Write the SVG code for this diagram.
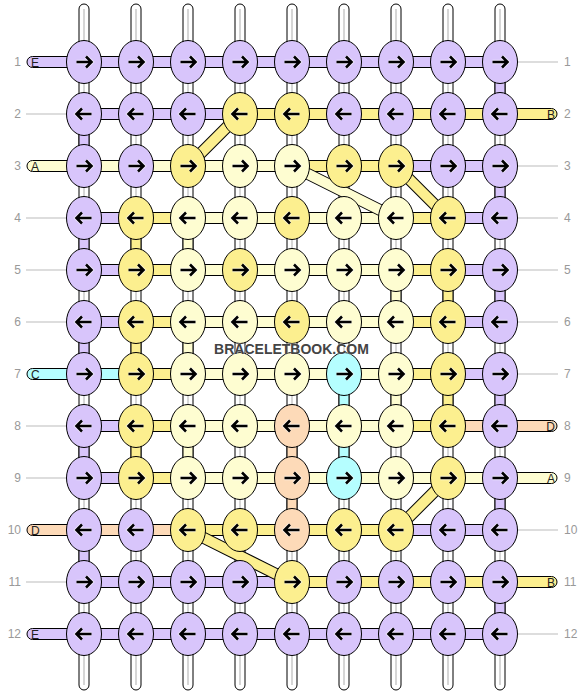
<svg xmlns="http://www.w3.org/2000/svg" xmlns:xlink="http://www.w3.org/1999/xlink" width="584" height="696" viewBox="0 0 584 696">
<style>
.p{fill:#D8C5FB}.y{fill:#FCEF8F}.l{fill:#FEFDD1}.c{fill:#B5FEFF}.o{fill:#FDDAB8}
#connectors rect{stroke:#000;stroke-width:1}
.n ellipse{stroke:#000;stroke-width:1}
.w{fill:#fff;stroke:#000;stroke-width:1}
.wl{stroke:#c8c8c8;stroke-width:1.5}
.g{stroke:#bbb;stroke-width:1}
.dk{stroke:#000;stroke-width:12}
.dy{stroke:#FCEF8F;stroke-width:10}
.dl{stroke:#FEFDD1;stroke-width:10}
.num{font-family:"Liberation Sans",Arial,sans-serif;font-size:12px;fill:#999}
.lt{font-family:"Liberation Sans",Arial,sans-serif;font-size:12px;fill:#222}
.wm{font-family:"Liberation Sans",Arial,sans-serif;font-size:14px;font-weight:bold;fill:#444}
</style>
<defs>
<g id="R"><path d="M-7.5,0H7.5M2,-5.5L7.5,0L2,5.5" fill="none" stroke="#fff" stroke-opacity="0.6" stroke-width="4.5"/><path d="M-7.5,0H7.5M2,-5.5L7.5,0L2,5.5" fill="none" stroke="#000" stroke-width="2.6"/></g>
<g id="L"><path d="M7.5,0H-7.5M-2,-5.5L-7.5,0L-2,5.5" fill="none" stroke="#fff" stroke-opacity="0.6" stroke-width="4.5"/><path d="M7.5,0H-7.5M-2,-5.5L-7.5,0L-2,5.5" fill="none" stroke="#000" stroke-width="2.6"/></g>
</defs>
<rect width="584" height="696" fill="#fff"/>
<g id="strings">
<rect class="w" x="79" y="4" width="10" height="686" rx="5"/><line class="wl" x1="84" y1="9" x2="84" y2="685"/>
<rect class="w" x="131" y="4" width="10" height="686" rx="5"/><line class="wl" x1="136" y1="9" x2="136" y2="685"/>
<rect class="w" x="183" y="4" width="10" height="686" rx="5"/><line class="wl" x1="188" y1="9" x2="188" y2="685"/>
<rect class="w" x="235" y="4" width="10" height="686" rx="5"/><line class="wl" x1="240" y1="9" x2="240" y2="685"/>
<rect class="w" x="287" y="4" width="10" height="686" rx="5"/><line class="wl" x1="292" y1="9" x2="292" y2="685"/>
<rect class="w" x="339" y="4" width="10" height="686" rx="5"/><line class="wl" x1="344" y1="9" x2="344" y2="685"/>
<rect class="w" x="391" y="4" width="10" height="686" rx="5"/><line class="wl" x1="396" y1="9" x2="396" y2="685"/>
<rect class="w" x="443" y="4" width="10" height="686" rx="5"/><line class="wl" x1="448" y1="9" x2="448" y2="685"/>
<rect class="w" x="495" y="4" width="10" height="686" rx="5"/><line class="wl" x1="500" y1="9" x2="500" y2="685"/>
</g>
<g id="guides">
<line class="g" x1="517" y1="62" x2="558" y2="62"/>
<line class="g" x1="26" y1="114" x2="67" y2="114"/>
<line class="g" x1="517" y1="166" x2="558" y2="166"/>
<line class="g" x1="26" y1="218" x2="67" y2="218"/><line class="g" x1="517" y1="218" x2="558" y2="218"/>
<line class="g" x1="26" y1="270" x2="67" y2="270"/><line class="g" x1="517" y1="270" x2="558" y2="270"/>
<line class="g" x1="26" y1="322" x2="67" y2="322"/><line class="g" x1="517" y1="322" x2="558" y2="322"/>
<line class="g" x1="517" y1="374" x2="558" y2="374"/>
<line class="g" x1="26" y1="426" x2="67" y2="426"/>
<line class="g" x1="26" y1="478" x2="67" y2="478"/>
<line class="g" x1="517" y1="530" x2="558" y2="530"/>
<line class="g" x1="26" y1="582" x2="67" y2="582"/>
<line class="g" x1="517" y1="634" x2="558" y2="634"/>
</g>
<g id="connectors">
<!-- row 1 -->
<rect class="p" x="27" y="56.5" width="60" height="11" rx="5.5"/>
<rect class="p" x="84" y="56.5" width="416" height="11"/>
<!-- row 2 -->
<rect class="p" x="84" y="108.5" width="156" height="11"/>
<rect class="y" x="240" y="108.5" width="260" height="11"/>
<rect class="y" x="497" y="108.5" width="60" height="11" rx="5.5"/>
<!-- row 3 -->
<rect class="l" x="27" y="160.5" width="60" height="11" rx="5.5"/>
<rect class="l" x="84" y="160.5" width="208" height="11"/>
<rect class="y" x="292" y="160.5" width="104" height="11"/>
<rect class="p" x="396" y="160.5" width="104" height="11"/>
<!-- row 4 -->
<rect class="p" x="84" y="212.5" width="52" height="11"/>
<rect class="y" x="136" y="212.5" width="52" height="11"/>
<rect class="l" x="188" y="212.5" width="208" height="11"/>
<rect class="y" x="396" y="212.5" width="52" height="11"/>
<rect class="p" x="448" y="212.5" width="52" height="11"/>
<!-- row 5 -->
<rect class="p" x="84" y="264.5" width="52" height="11"/>
<rect class="y" x="136" y="264.5" width="52" height="11"/>
<rect class="l" x="188" y="264.5" width="208" height="11"/>
<rect class="y" x="396" y="264.5" width="52" height="11"/>
<rect class="p" x="448" y="264.5" width="52" height="11"/>
<!-- row 6 -->
<rect class="p" x="84" y="316.5" width="52" height="11"/>
<rect class="y" x="136" y="316.5" width="52" height="11"/>
<rect class="l" x="188" y="316.5" width="208" height="11"/>
<rect class="y" x="396" y="316.5" width="52" height="11"/>
<rect class="p" x="448" y="316.5" width="52" height="11"/>
<!-- row 7 -->
<rect class="c" x="27" y="368.5" width="60" height="11" rx="5.5"/>
<rect class="c" x="84" y="368.5" width="52" height="11"/>
<rect class="y" x="136" y="368.5" width="52" height="11"/>
<rect class="l" x="188" y="368.5" width="208" height="11"/>
<rect class="y" x="396" y="368.5" width="52" height="11"/>
<rect class="p" x="448" y="368.5" width="52" height="11"/>
<!-- row 8 -->
<rect class="p" x="84" y="420.5" width="52" height="11"/>
<rect class="y" x="136" y="420.5" width="52" height="11"/>
<rect class="l" x="188" y="420.5" width="208" height="11"/>
<rect class="y" x="396" y="420.5" width="52" height="11"/>
<rect class="o" x="448" y="420.5" width="52" height="11"/>
<rect class="o" x="497" y="420.5" width="60" height="11" rx="5.5"/>
<!-- row 9 -->
<rect class="p" x="84" y="472.5" width="52" height="11"/>
<rect class="y" x="136" y="472.5" width="52" height="11"/>
<rect class="l" x="188" y="472.5" width="312" height="11"/>
<rect class="l" x="497" y="472.5" width="60" height="11" rx="5.5"/>
<!-- row 10 -->
<rect class="o" x="27" y="524.5" width="60" height="11" rx="5.5"/>
<rect class="o" x="84" y="524.5" width="104" height="11"/>
<rect class="y" x="188" y="524.5" width="208" height="11"/>
<rect class="p" x="396" y="524.5" width="104" height="11"/>
<!-- row 11 -->
<rect class="p" x="84" y="576.5" width="208" height="11"/>
<rect class="y" x="292" y="576.5" width="208" height="11"/>
<rect class="y" x="497" y="576.5" width="60" height="11" rx="5.5"/>
<!-- row 12 -->
<rect class="p" x="27" y="628.5" width="60" height="11" rx="5.5"/>
<rect class="p" x="84" y="628.5" width="416" height="11"/>
<!-- vertical segments -->
<rect class="p" x="495" y="62" width="10" height="52"/>
<rect class="p" x="79" y="114" width="10" height="52"/>
<rect class="p" x="495" y="166" width="10" height="52"/>
<rect class="p" x="79" y="218" width="10" height="52"/>
<rect class="y" x="131" y="218" width="10" height="52"/>
<rect class="l" x="183" y="218" width="10" height="52"/>
<rect class="l" x="391" y="270" width="10" height="52"/>
<rect class="y" x="443" y="270" width="10" height="52"/>
<rect class="p" x="495" y="270" width="10" height="52"/>
<rect class="p" x="79" y="322" width="10" height="52"/>
<rect class="y" x="131" y="322" width="10" height="52"/>
<rect class="l" x="183" y="322" width="10" height="52"/>
<rect class="c" x="339" y="374" width="10" height="52"/>
<rect class="l" x="391" y="374" width="10" height="52"/>
<rect class="y" x="443" y="374" width="10" height="52"/>
<rect class="p" x="495" y="374" width="10" height="52"/>
<rect class="p" x="79" y="426" width="10" height="52"/>
<rect class="y" x="131" y="426" width="10" height="52"/>
<rect class="l" x="183" y="426" width="10" height="52"/>
<rect class="o" x="287" y="426" width="10" height="52"/>
<rect class="c" x="339" y="426" width="10" height="52"/>
<rect class="o" x="287" y="478" width="10" height="52"/>
<rect class="p" x="495" y="478" width="10" height="52"/>
<rect class="p" x="79" y="530" width="10" height="52"/>
<rect class="p" x="495" y="582" width="10" height="52"/>
<!-- diagonals -->
<line class="dk" x1="240" y1="114" x2="188" y2="166"/><line class="dy" x1="240" y1="114" x2="188" y2="166"/>
<line class="dk" x1="396" y1="166" x2="448" y2="218"/><line class="dy" x1="396" y1="166" x2="448" y2="218"/>
<line class="dk" x1="292" y1="166" x2="396" y2="218"/><line class="dl" x1="292" y1="166" x2="396" y2="218"/>
<line class="dk" x1="448" y1="478" x2="396" y2="530"/><line class="dy" x1="448" y1="478" x2="396" y2="530"/>
<line class="dk" x1="188" y1="530" x2="292" y2="582"/><line class="dy" x1="188" y1="530" x2="292" y2="582"/>
</g>
<g id="knots">
<g id="k1-1" class="n p"><ellipse cx="84" cy="62" rx="17.5" ry="21.5"/><use href="#R" x="84" y="62"/></g>
<g id="k1-2" class="n p"><ellipse cx="136" cy="62" rx="17.5" ry="21.5"/><use href="#R" x="136" y="62"/></g>
<g id="k1-3" class="n p"><ellipse cx="188" cy="62" rx="17.5" ry="21.5"/><use href="#R" x="188" y="62"/></g>
<g id="k1-4" class="n p"><ellipse cx="240" cy="62" rx="17.5" ry="21.5"/><use href="#R" x="240" y="62"/></g>
<g id="k1-5" class="n p"><ellipse cx="292" cy="62" rx="17.5" ry="21.5"/><use href="#R" x="292" y="62"/></g>
<g id="k1-6" class="n p"><ellipse cx="344" cy="62" rx="17.5" ry="21.5"/><use href="#R" x="344" y="62"/></g>
<g id="k1-7" class="n p"><ellipse cx="396" cy="62" rx="17.5" ry="21.5"/><use href="#R" x="396" y="62"/></g>
<g id="k1-8" class="n p"><ellipse cx="448" cy="62" rx="17.5" ry="21.5"/><use href="#R" x="448" y="62"/></g>
<g id="k1-9" class="n p"><ellipse cx="500" cy="62" rx="17.5" ry="21.5"/><use href="#R" x="500" y="62"/></g>

<g id="k2-1" class="n p"><ellipse cx="84" cy="114" rx="17.5" ry="21.5"/><use href="#L" x="84" y="114"/></g>
<g id="k2-2" class="n p"><ellipse cx="136" cy="114" rx="17.5" ry="21.5"/><use href="#L" x="136" y="114"/></g>
<g id="k2-3" class="n p"><ellipse cx="188" cy="114" rx="17.5" ry="21.5"/><use href="#L" x="188" y="114"/></g>
<g id="k2-4" class="n y"><ellipse cx="240" cy="114" rx="17.5" ry="21.5"/><use href="#L" x="240" y="114"/></g>
<g id="k2-5" class="n y"><ellipse cx="292" cy="114" rx="17.5" ry="21.5"/><use href="#L" x="292" y="114"/></g>
<g id="k2-6" class="n p"><ellipse cx="344" cy="114" rx="17.5" ry="21.5"/><use href="#L" x="344" y="114"/></g>
<g id="k2-7" class="n p"><ellipse cx="396" cy="114" rx="17.5" ry="21.5"/><use href="#L" x="396" y="114"/></g>
<g id="k2-8" class="n p"><ellipse cx="448" cy="114" rx="17.5" ry="21.5"/><use href="#L" x="448" y="114"/></g>
<g id="k2-9" class="n p"><ellipse cx="500" cy="114" rx="17.5" ry="21.5"/><use href="#L" x="500" y="114"/></g>

<g id="k3-1" class="n p"><ellipse cx="84" cy="166" rx="17.5" ry="21.5"/><use href="#R" x="84" y="166"/></g>
<g id="k3-2" class="n p"><ellipse cx="136" cy="166" rx="17.5" ry="21.5"/><use href="#R" x="136" y="166"/></g>
<g id="k3-3" class="n y"><ellipse cx="188" cy="166" rx="17.5" ry="21.5"/><use href="#R" x="188" y="166"/></g>
<g id="k3-4" class="n l"><ellipse cx="240" cy="166" rx="17.5" ry="21.5"/><use href="#R" x="240" y="166"/></g>
<g id="k3-5" class="n l"><ellipse cx="292" cy="166" rx="17.5" ry="21.5"/><use href="#R" x="292" y="166"/></g>
<g id="k3-6" class="n y"><ellipse cx="344" cy="166" rx="17.5" ry="21.5"/><use href="#R" x="344" y="166"/></g>
<g id="k3-7" class="n y"><ellipse cx="396" cy="166" rx="17.5" ry="21.5"/><use href="#R" x="396" y="166"/></g>
<g id="k3-8" class="n p"><ellipse cx="448" cy="166" rx="17.5" ry="21.5"/><use href="#R" x="448" y="166"/></g>
<g id="k3-9" class="n p"><ellipse cx="500" cy="166" rx="17.5" ry="21.5"/><use href="#R" x="500" y="166"/></g>

<g id="k4-1" class="n p"><ellipse cx="84" cy="218" rx="17.5" ry="21.5"/><use href="#L" x="84" y="218"/></g>
<g id="k4-2" class="n y"><ellipse cx="136" cy="218" rx="17.5" ry="21.5"/><use href="#L" x="136" y="218"/></g>
<g id="k4-3" class="n l"><ellipse cx="188" cy="218" rx="17.5" ry="21.5"/><use href="#L" x="188" y="218"/></g>
<g id="k4-4" class="n l"><ellipse cx="240" cy="218" rx="17.5" ry="21.5"/><use href="#L" x="240" y="218"/></g>
<g id="k4-5" class="n y"><ellipse cx="292" cy="218" rx="17.5" ry="21.5"/><use href="#L" x="292" y="218"/></g>
<g id="k4-6" class="n l"><ellipse cx="344" cy="218" rx="17.5" ry="21.5"/><use href="#L" x="344" y="218"/></g>
<g id="k4-7" class="n l"><ellipse cx="396" cy="218" rx="17.5" ry="21.5"/><use href="#L" x="396" y="218"/></g>
<g id="k4-8" class="n y"><ellipse cx="448" cy="218" rx="17.5" ry="21.5"/><use href="#L" x="448" y="218"/></g>
<g id="k4-9" class="n p"><ellipse cx="500" cy="218" rx="17.5" ry="21.5"/><use href="#L" x="500" y="218"/></g>

<g id="k5-1" class="n p"><ellipse cx="84" cy="270" rx="17.5" ry="21.5"/><use href="#R" x="84" y="270"/></g>
<g id="k5-2" class="n y"><ellipse cx="136" cy="270" rx="17.5" ry="21.5"/><use href="#R" x="136" y="270"/></g>
<g id="k5-3" class="n l"><ellipse cx="188" cy="270" rx="17.5" ry="21.5"/><use href="#R" x="188" y="270"/></g>
<g id="k5-4" class="n y"><ellipse cx="240" cy="270" rx="17.5" ry="21.5"/><use href="#R" x="240" y="270"/></g>
<g id="k5-5" class="n l"><ellipse cx="292" cy="270" rx="17.5" ry="21.5"/><use href="#R" x="292" y="270"/></g>
<g id="k5-6" class="n l"><ellipse cx="344" cy="270" rx="17.5" ry="21.5"/><use href="#R" x="344" y="270"/></g>
<g id="k5-7" class="n l"><ellipse cx="396" cy="270" rx="17.5" ry="21.5"/><use href="#R" x="396" y="270"/></g>
<g id="k5-8" class="n y"><ellipse cx="448" cy="270" rx="17.5" ry="21.5"/><use href="#R" x="448" y="270"/></g>
<g id="k5-9" class="n p"><ellipse cx="500" cy="270" rx="17.5" ry="21.5"/><use href="#R" x="500" y="270"/></g>

<g id="k6-1" class="n p"><ellipse cx="84" cy="322" rx="17.5" ry="21.5"/><use href="#L" x="84" y="322"/></g>
<g id="k6-2" class="n y"><ellipse cx="136" cy="322" rx="17.5" ry="21.5"/><use href="#L" x="136" y="322"/></g>
<g id="k6-3" class="n l"><ellipse cx="188" cy="322" rx="17.5" ry="21.5"/><use href="#L" x="188" y="322"/></g>
<g id="k6-4" class="n l"><ellipse cx="240" cy="322" rx="17.5" ry="21.5"/><use href="#L" x="240" y="322"/></g>
<g id="k6-5" class="n y"><ellipse cx="292" cy="322" rx="17.5" ry="21.5"/><use href="#L" x="292" y="322"/></g>
<g id="k6-6" class="n l"><ellipse cx="344" cy="322" rx="17.5" ry="21.5"/><use href="#L" x="344" y="322"/></g>
<g id="k6-7" class="n l"><ellipse cx="396" cy="322" rx="17.5" ry="21.5"/><use href="#L" x="396" y="322"/></g>
<g id="k6-8" class="n y"><ellipse cx="448" cy="322" rx="17.5" ry="21.5"/><use href="#L" x="448" y="322"/></g>
<g id="k6-9" class="n p"><ellipse cx="500" cy="322" rx="17.5" ry="21.5"/><use href="#L" x="500" y="322"/></g>

<g id="k7-1" class="n p"><ellipse cx="84" cy="374" rx="17.5" ry="21.5"/><use href="#R" x="84" y="374"/></g>
<g id="k7-2" class="n y"><ellipse cx="136" cy="374" rx="17.5" ry="21.5"/><use href="#R" x="136" y="374"/></g>
<g id="k7-3" class="n l"><ellipse cx="188" cy="374" rx="17.5" ry="21.5"/><use href="#R" x="188" y="374"/></g>
<g id="k7-4" class="n l"><ellipse cx="240" cy="374" rx="17.5" ry="21.5"/><use href="#R" x="240" y="374"/></g>
<g id="k7-5" class="n l"><ellipse cx="292" cy="374" rx="17.5" ry="21.5"/><use href="#R" x="292" y="374"/></g>
<g id="k7-6" class="n c"><ellipse cx="344" cy="374" rx="17.5" ry="21.5"/><use href="#R" x="344" y="374"/></g>
<g id="k7-7" class="n l"><ellipse cx="396" cy="374" rx="17.5" ry="21.5"/><use href="#R" x="396" y="374"/></g>
<g id="k7-8" class="n y"><ellipse cx="448" cy="374" rx="17.5" ry="21.5"/><use href="#R" x="448" y="374"/></g>
<g id="k7-9" class="n p"><ellipse cx="500" cy="374" rx="17.5" ry="21.5"/><use href="#R" x="500" y="374"/></g>

<g id="k8-1" class="n p"><ellipse cx="84" cy="426" rx="17.5" ry="21.5"/><use href="#L" x="84" y="426"/></g>
<g id="k8-2" class="n y"><ellipse cx="136" cy="426" rx="17.5" ry="21.5"/><use href="#L" x="136" y="426"/></g>
<g id="k8-3" class="n l"><ellipse cx="188" cy="426" rx="17.5" ry="21.5"/><use href="#L" x="188" y="426"/></g>
<g id="k8-4" class="n l"><ellipse cx="240" cy="426" rx="17.5" ry="21.5"/><use href="#L" x="240" y="426"/></g>
<g id="k8-5" class="n o"><ellipse cx="292" cy="426" rx="17.5" ry="21.5"/><use href="#L" x="292" y="426"/></g>
<g id="k8-6" class="n l"><ellipse cx="344" cy="426" rx="17.5" ry="21.5"/><use href="#L" x="344" y="426"/></g>
<g id="k8-7" class="n l"><ellipse cx="396" cy="426" rx="17.5" ry="21.5"/><use href="#L" x="396" y="426"/></g>
<g id="k8-8" class="n y"><ellipse cx="448" cy="426" rx="17.5" ry="21.5"/><use href="#L" x="448" y="426"/></g>
<g id="k8-9" class="n p"><ellipse cx="500" cy="426" rx="17.5" ry="21.5"/><use href="#L" x="500" y="426"/></g>

<g id="k9-1" class="n p"><ellipse cx="84" cy="478" rx="17.5" ry="21.5"/><use href="#R" x="84" y="478"/></g>
<g id="k9-2" class="n y"><ellipse cx="136" cy="478" rx="17.5" ry="21.5"/><use href="#R" x="136" y="478"/></g>
<g id="k9-3" class="n l"><ellipse cx="188" cy="478" rx="17.5" ry="21.5"/><use href="#R" x="188" y="478"/></g>
<g id="k9-4" class="n l"><ellipse cx="240" cy="478" rx="17.5" ry="21.5"/><use href="#R" x="240" y="478"/></g>
<g id="k9-5" class="n o"><ellipse cx="292" cy="478" rx="17.5" ry="21.5"/><use href="#R" x="292" y="478"/></g>
<g id="k9-6" class="n c"><ellipse cx="344" cy="478" rx="17.5" ry="21.5"/><use href="#R" x="344" y="478"/></g>
<g id="k9-7" class="n l"><ellipse cx="396" cy="478" rx="17.5" ry="21.5"/><use href="#R" x="396" y="478"/></g>
<g id="k9-8" class="n y"><ellipse cx="448" cy="478" rx="17.5" ry="21.5"/><use href="#R" x="448" y="478"/></g>
<g id="k9-9" class="n p"><ellipse cx="500" cy="478" rx="17.5" ry="21.5"/><use href="#R" x="500" y="478"/></g>

<g id="k10-1" class="n p"><ellipse cx="84" cy="530" rx="17.5" ry="21.5"/><use href="#L" x="84" y="530"/></g>
<g id="k10-2" class="n p"><ellipse cx="136" cy="530" rx="17.5" ry="21.5"/><use href="#L" x="136" y="530"/></g>
<g id="k10-3" class="n y"><ellipse cx="188" cy="530" rx="17.5" ry="21.5"/><use href="#L" x="188" y="530"/></g>
<g id="k10-4" class="n y"><ellipse cx="240" cy="530" rx="17.5" ry="21.5"/><use href="#L" x="240" y="530"/></g>
<g id="k10-5" class="n o"><ellipse cx="292" cy="530" rx="17.5" ry="21.5"/><use href="#L" x="292" y="530"/></g>
<g id="k10-6" class="n y"><ellipse cx="344" cy="530" rx="17.5" ry="21.5"/><use href="#L" x="344" y="530"/></g>
<g id="k10-7" class="n y"><ellipse cx="396" cy="530" rx="17.5" ry="21.5"/><use href="#L" x="396" y="530"/></g>
<g id="k10-8" class="n p"><ellipse cx="448" cy="530" rx="17.5" ry="21.5"/><use href="#L" x="448" y="530"/></g>
<g id="k10-9" class="n p"><ellipse cx="500" cy="530" rx="17.5" ry="21.5"/><use href="#L" x="500" y="530"/></g>

<g id="k11-1" class="n p"><ellipse cx="84" cy="582" rx="17.5" ry="21.5"/><use href="#R" x="84" y="582"/></g>
<g id="k11-2" class="n p"><ellipse cx="136" cy="582" rx="17.5" ry="21.5"/><use href="#R" x="136" y="582"/></g>
<g id="k11-3" class="n p"><ellipse cx="188" cy="582" rx="17.5" ry="21.5"/><use href="#R" x="188" y="582"/></g>
<g id="k11-4" class="n p"><ellipse cx="240" cy="582" rx="17.5" ry="21.5"/><use href="#R" x="240" y="582"/></g>
<g id="k11-5" class="n y"><ellipse cx="292" cy="582" rx="17.5" ry="21.5"/><use href="#R" x="292" y="582"/></g>
<g id="k11-6" class="n p"><ellipse cx="344" cy="582" rx="17.5" ry="21.5"/><use href="#R" x="344" y="582"/></g>
<g id="k11-7" class="n p"><ellipse cx="396" cy="582" rx="17.5" ry="21.5"/><use href="#R" x="396" y="582"/></g>
<g id="k11-8" class="n p"><ellipse cx="448" cy="582" rx="17.5" ry="21.5"/><use href="#R" x="448" y="582"/></g>
<g id="k11-9" class="n p"><ellipse cx="500" cy="582" rx="17.5" ry="21.5"/><use href="#R" x="500" y="582"/></g>

<g id="k12-1" class="n p"><ellipse cx="84" cy="634" rx="17.5" ry="21.5"/><use href="#L" x="84" y="634"/></g>
<g id="k12-2" class="n p"><ellipse cx="136" cy="634" rx="17.5" ry="21.5"/><use href="#L" x="136" y="634"/></g>
<g id="k12-3" class="n p"><ellipse cx="188" cy="634" rx="17.5" ry="21.5"/><use href="#L" x="188" y="634"/></g>
<g id="k12-4" class="n p"><ellipse cx="240" cy="634" rx="17.5" ry="21.5"/><use href="#L" x="240" y="634"/></g>
<g id="k12-5" class="n p"><ellipse cx="292" cy="634" rx="17.5" ry="21.5"/><use href="#L" x="292" y="634"/></g>
<g id="k12-6" class="n p"><ellipse cx="344" cy="634" rx="17.5" ry="21.5"/><use href="#L" x="344" y="634"/></g>
<g id="k12-7" class="n p"><ellipse cx="396" cy="634" rx="17.5" ry="21.5"/><use href="#L" x="396" y="634"/></g>
<g id="k12-8" class="n p"><ellipse cx="448" cy="634" rx="17.5" ry="21.5"/><use href="#L" x="448" y="634"/></g>
<g id="k12-9" class="n p"><ellipse cx="500" cy="634" rx="17.5" ry="21.5"/><use href="#L" x="500" y="634"/></g>
</g>
<g id="labels">
<g class="num" text-anchor="end">
<text x="21" y="66">1</text><text x="21" y="118">2</text><text x="21" y="170">3</text><text x="21" y="222">4</text>
<text x="21" y="274">5</text><text x="21" y="326">6</text><text x="21" y="378">7</text><text x="21" y="430">8</text>
<text x="21" y="482">9</text><text x="21" y="534">10</text><text x="21" y="586">11</text><text x="21" y="638">12</text>
</g>
<g class="num">
<text x="564" y="66">1</text><text x="564" y="118">2</text><text x="564" y="170">3</text><text x="564" y="222">4</text>
<text x="564" y="274">5</text><text x="564" y="326">6</text><text x="564" y="378">7</text><text x="564" y="430">8</text>
<text x="564" y="482">9</text><text x="564" y="534">10</text><text x="564" y="586">11</text><text x="564" y="638">12</text>
</g>
<g class="lt">
<text x="31" y="66.5">E</text><text x="31" y="170.5">A</text><text x="31" y="378.5">C</text><text x="31" y="534.5">D</text><text x="31" y="638.5">E</text>
</g>
<g class="lt" text-anchor="end">
<text x="555" y="118.5">B</text><text x="555" y="430.5">D</text><text x="555" y="482.5">A</text><text x="555" y="586.5">B</text>
</g>
<text class="wm" x="291.5" y="353.5" text-anchor="middle" stroke="#fff" stroke-width="1.2" stroke-opacity="0.5" paint-order="stroke">BRACELETBOOK.COM</text>
</g>
</svg>
